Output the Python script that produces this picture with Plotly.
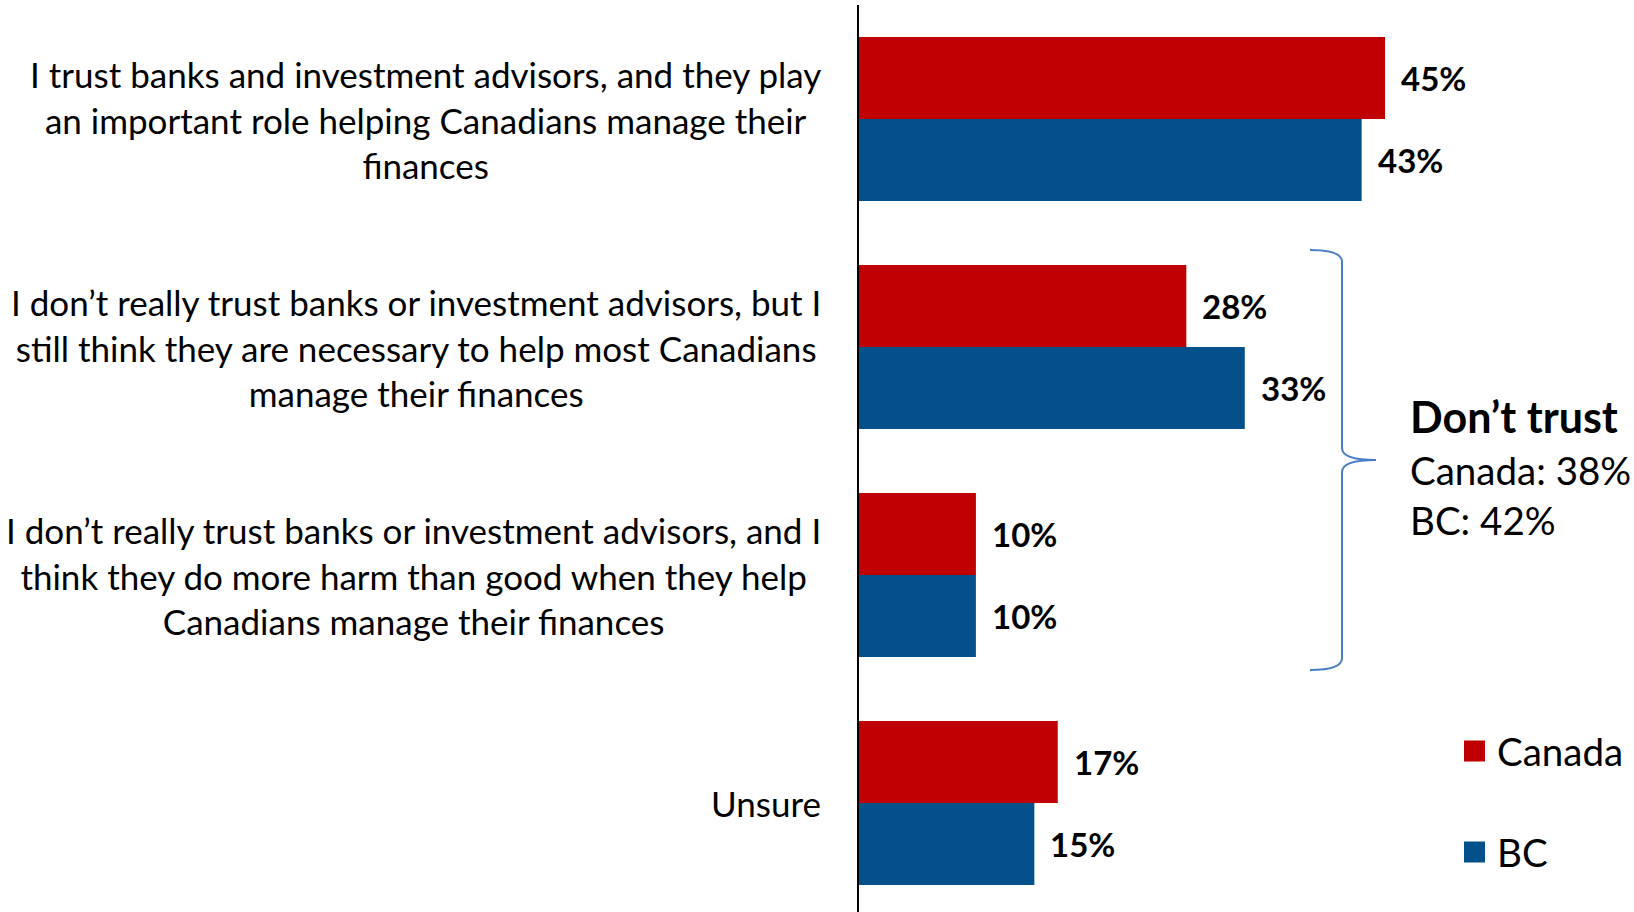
import plotly.graph_objects as go

# Survey responses: share of respondents choosing each statement
categories = [
    "I trust banks and investment advisors, and they play<br>an important role helping Canadians manage their<br>finances",
    "I don\u2019t really trust banks or investment advisors, but I<br>still think they are necessary to help most Canadians<br>manage their finances",
    "I don\u2019t really trust banks or investment advisors, and I<br>think they do more harm than good when they help<br>Canadians manage their finances",
    "Unsure",
]
canada = [45, 28, 10, 17]
bc = [43, 33, 10, 15]
series_names = ["Canada", "BC"]
dont_trust_title = "Don\u2019t trust"
dont_trust_lines = ["Canada: 38%", "BC: 42%"]

RED = "#C00000"
BLUE = "#03508A"
BRACE = "#4A7EC4"
FONT = "Lato"

W, H = 1634, 912
ML, MR, MT, MB = 859, 0, 5, 0
PW, PH = W - ML - MR, H - MT - MB
BAND = 228  # pixel height of one category band


def px_x(x):
    return (x - ML) / PW


def px_y(y):
    return 1 - (y - MT) / PH


fig = go.Figure()
for name, vals, col in [(series_names[0], canada, RED), (series_names[1], bc, BLUE)]:
    fig.add_trace(go.Bar(
        y=categories, x=vals, orientation="h", name=name,
        marker=dict(color=col, line=dict(width=0)),
        showlegend=False,
    ))

annotations = []
# category labels, centred lines, right edge near the axis
for cat in categories:
    annotations.append(dict(
        x=px_x(823), xref="paper", y=cat, yref="y",
        text=cat, showarrow=False, xanchor="right", yanchor="middle",
        align="center", font=dict(family=FONT, size=35, color="#000"),
    ))

# value labels
n = len(categories)
for i, cat in enumerate(categories):
    for vals, off in [(canada, -0.18), (bc, 0.18)]:
        annotations.append(dict(
            x=vals[i], xref="x", y=i + off, yref="y",
            text=f"<b>{vals[i]}%</b>", showarrow=False,
            xanchor="left", yanchor="middle", xshift=14,
            font=dict(family=FONT, size=33, color="#000"),
        ))

# bracket summary text
annotations.append(dict(
    x=px_x(1408), xref="paper", y=px_y(416), yref="paper",
    text=f"<b>{dont_trust_title}</b>", showarrow=False,
    xanchor="left", yanchor="middle",
    font=dict(family=FONT, size=43, color="#000"),
))
for j, line in enumerate(dont_trust_lines):
    annotations.append(dict(
        x=px_x(1408), xref="paper", y=px_y(470 + 50 * j), yref="paper",
        text=line, showarrow=False, xanchor="left", yanchor="middle",
        font=dict(family=FONT, size=38.5, color="#000"),
    ))

# legend entries
shapes = []
for j, (name, col) in enumerate([(series_names[0], RED), (series_names[1], BLUE)]):
    cy = 751 + 101 * j
    shapes.append(dict(
        type="rect", xref="paper", yref="paper",
        x0=px_x(1464), x1=px_x(1485), y0=px_y(cy - 10.5), y1=px_y(cy + 10.5),
        fillcolor=col, line=dict(width=0),
    ))
    annotations.append(dict(
        x=px_x(1495), xref="paper", y=px_y(cy), yref="paper",
        text=name, showarrow=False, xanchor="left", yanchor="middle",
        font=dict(family=FONT, size=38.5, color="#000"),
    ))

# curly bracket grouping the two "don't trust" answers
pts = [
    ("M", 1310, 250), ("Q", 1342, 250), ("", 1342, 262), ("L", 1342, 448),
    ("Q", 1342, 460), ("", 1376, 460), ("Q", 1342, 460), ("", 1342, 472),
    ("L", 1342, 658), ("Q", 1342, 670), ("", 1310, 670),
]
path = " ".join(f"{c} {px_x(x):.5f},{px_y(y):.5f}".strip() for c, x, y in pts)
shapes.append(dict(type="path", xref="paper", yref="paper", path=path,
                   line=dict(color=BRACE, width=2)))

fig.update_layout(
    width=W, height=H,
    margin=dict(l=ML, r=MR, t=MT, b=MB, pad=0),
    paper_bgcolor="white", plot_bgcolor="white",
    barmode="group", bargap=0.28, bargroupgap=0,
    xaxis=dict(range=[0, PW / 11.69], visible=False, fixedrange=True),
    yaxis=dict(range=[-0.5 + PH / BAND, -0.5], showticklabels=False, showgrid=False,
               zeroline=False, showline=True, linecolor="#000", linewidth=2,
               ticks="", fixedrange=True),
    annotations=annotations, shapes=shapes,
    font=dict(family=FONT),
)

fig.write_html("out.html")
